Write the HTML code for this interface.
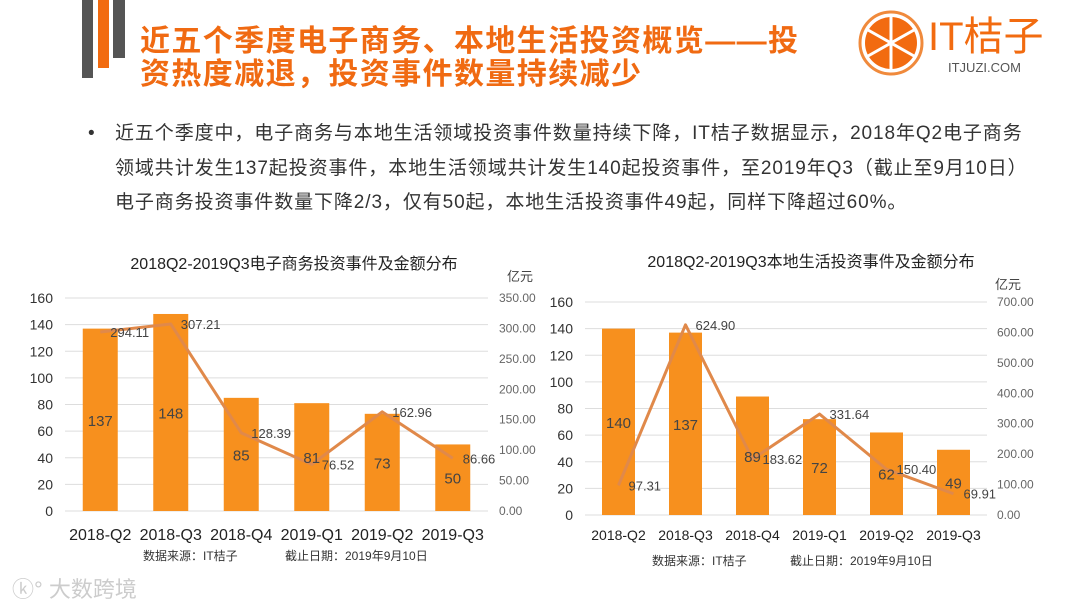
<!DOCTYPE html>
<html><head><meta charset="utf-8">
<style>
body{margin:0;width:1080px;height:608px;overflow:hidden;background:#fff;font-family:"Liberation Sans","Noto Sans CJK SC",sans-serif;position:relative}
.abs{position:absolute}
.title{left:140px;top:25px;font-size:30px;font-weight:bold;color:#f06a12;line-height:33px;letter-spacing:1.4px;white-space:nowrap}
.bul{left:88px;top:117px;font-size:19px;color:#333;line-height:34.5px;letter-spacing:0.9px;white-space:nowrap}
</style></head><body>
<div class="abs" style="left:82px;top:0;width:11px;height:78px;background:#555"></div>
<div class="abs" style="left:98px;top:0;width:11px;height:68px;background:#f26b10"></div>
<div class="abs" style="left:113px;top:0;width:12px;height:58px;background:#555"></div>
<div class="abs title">近五个季度电子商务、本地生活投资概览——投<br>资热度减退，投资事件数量持续减少</div>
<svg class="abs" style="left:856px;top:10px" width="72" height="68">
<circle cx="35" cy="33" r="31" fill="none" stroke="#f08a3c" stroke-width="3"/>
<circle cx="35" cy="33" r="26" fill="#f26b10"/>
<g stroke="#fff" stroke-width="3"><line x1="35" y1="6" x2="35" y2="60"/><line x1="12" y1="20" x2="58" y2="46"/><line x1="12" y1="46" x2="58" y2="20"/></g>
</svg>
<div class="abs" style="left:928px;top:15px;font-size:40px;color:#f26b10;line-height:44px">IT桔子</div>
<div class="abs" style="left:948px;top:60px;font-size:13px;color:#555">ITJUZI.COM</div>
<div class="abs bul"><span style="position:absolute;left:0">•</span><div style="margin-left:27px">近五个季度中，电子商务与本地生活领域投资事件数量持续下降，IT桔子数据显示，2018年Q2电子商务<br>领域共计发生137起投资事件，本地生活领域共计发生140起投资事件，至2019年Q3（截止至9月10日）<br>电子商务投资事件数量下降2/3，仅有50起，本地生活投资事件49起，同样下降超过60%。</div></div>
<div class="abs" style="left:12px;top:572px;font-size:22px;color:#ccc">ⓚ° 大数跨境</div>
<svg id="chart" class="abs" style="left:0;top:0" width="1080" height="608"></svg>
<script>
const categories=["2018-Q2","2018-Q3","2018-Q4","2019-Q1","2019-Q2","2019-Q3"];
const ecomCounts=[137,148,85,81,73,50];
const ecomAmounts=[294.11,307.21,128.39,76.52,162.96,86.66];
const localCounts=[140,137,89,72,62,49];
const localAmounts=[97.31,624.90,183.62,331.64,150.40,69.91];
const leftTicks=[0,20,40,60,80,100,120,140,160];
const ecomRightTicks=[0,50,100,150,200,250,300,350];
const localRightTicks=[0,100,200,300,400,500,600,700];
const svg=document.getElementById('chart');
const NS='http://www.w3.org/2000/svg';
function mk(tag,attrs,parent){const e=document.createElementNS(NS,tag);for(const k in attrs)e.setAttribute(k,attrs[k]);(parent||svg).appendChild(e);return e;}
function txt(s,attrs,parent){const e=mk('text',attrs,parent);e.textContent=s;return e;}
function drawChart(cfg){
  const g=mk('g',{});
  
  
  const {x0,x1,yTop,yBot,lMax,rMax}=cfg;
  const step=(x1-x0)/categories.length;
  const cx=i=>x0+step*(i+0.5);
  const yl=v=>yBot-(v/lMax)*(yBot-yTop);
  const yr=v=>yBot-(v/rMax)*(yBot-yTop);
  const t=txt(cfg.title,{x:cfg.titleX,y:cfg.titleY,'font-size':16,fill:'#222','text-anchor':'middle','font-family':'Liberation Sans, Noto Sans CJK SC, sans-serif'},g);
  
  leftTicks.forEach(v=>{
    const l=mk('line',{x1:x0,x2:x1,y1:yl(v),y2:yl(v),stroke:'#ddd','stroke-width':1},g);
    
    const tl=txt(String(v),{x:x0-12,y:yl(v)+5,'font-size':14,fill:'#333','text-anchor':'end'},g);
    
  });
  cfg.rTicks.forEach(v=>{
    const tr=txt(v.toFixed(2),{x:cfg.rLabelX,y:yr(v)+4,'font-size':12,fill:'#666'},g);
    
  });
  const u=txt('亿元',{x:cfg.unitX,y:cfg.unitY,'font-size':13,fill:'#444'},g);
  
  cfg.counts.forEach((v,i)=>{
    const b=mk('rect',{x:cx(i)-cfg.bw/2,y:yl(v),width:cfg.bw,height:yBot-yl(v),fill:'#f7901e'},g);
    
  });
  const pts=cfg.amounts.map((v,i)=>cx(i)+','+yr(v)).join(' ');
  const pl=mk('polyline',{points:pts,fill:'none',stroke:'#e0894a','stroke-width':3,'stroke-linejoin':'round'},g);
  
  cfg.counts.forEach((v,i)=>{
    const bl=txt(String(v),{x:cx(i),y:(yl(v)+yBot)/2+6,'font-size':15,fill:'#444','text-anchor':'middle'},g);
    
  });
  cfg.amounts.forEach((v,i)=>{
    const al=txt(v.toFixed(2),{x:cx(i)+10,y:yr(v)+5,'font-size':13,fill:'#444'},g);
    
  });
  categories.forEach((c,i)=>{
    const xl=txt(c,{x:cx(i),y:cfg.xLabelY,'font-size':cfg.xfs,fill:'#222','text-anchor':'middle'},g);
    
  });
  const s1=txt('数据来源：IT桔子',{x:cfg.srcX,y:cfg.srcY,'font-size':12,fill:'#333'},g);
  
  const s2=txt('截止日期：2019年9月10日',{x:cfg.dateX,y:cfg.srcY,'font-size':12,fill:'#333'},g);
  
}
drawChart({name:'ecommerce-chart',title:'2018Q2-2019Q3电子商务投资事件及金额分布',titleX:294,titleY:269,
  x0:65,x1:488,yTop:298,yBot:511,lMax:160,rMax:350,rTicks:ecomRightTicks,counts:ecomCounts,amounts:ecomAmounts,
  bw:35,rLabelX:499,unitX:507,unitY:281,xLabelY:540,xfs:16,srcX:143,dateX:285,srcY:560});
drawChart({name:'local-life-chart',title:'2018Q2-2019Q3本地生活投资事件及金额分布',titleX:811,titleY:267,
  x0:585,x1:987,yTop:302,yBot:515,lMax:160,rMax:700,rTicks:localRightTicks,counts:localCounts,amounts:localAmounts,
  bw:33,rLabelX:997,unitX:995,unitY:289,xLabelY:540,xfs:14,srcX:652,dateX:790,srcY:565});
</script>
</body></html>
